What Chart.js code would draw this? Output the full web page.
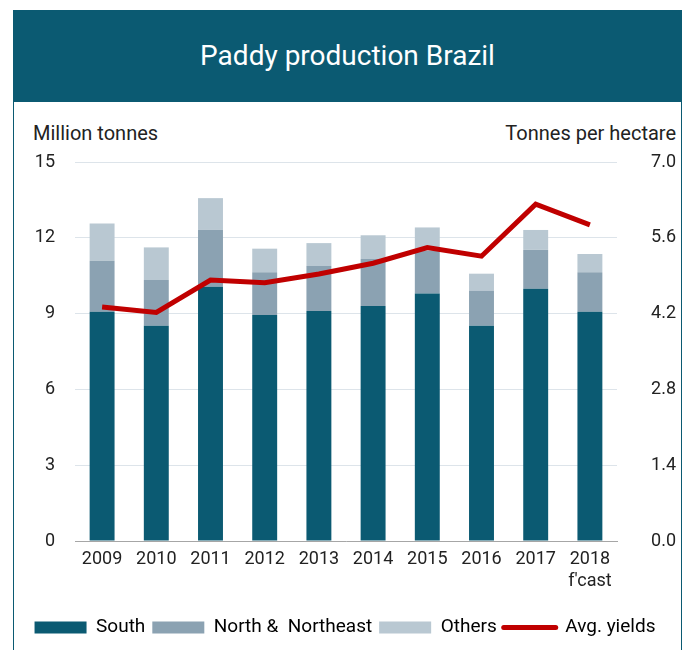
<!DOCTYPE html>
<html><head><meta charset="utf-8">
<script src="https://cdn.jsdelivr.net/npm/chart.js@4"></script>
<style>
body{margin:0;background:#fff;width:684px;height:650px;overflow:hidden;position:relative;font-family:Roboto,sans-serif;}
#frame{position:absolute;left:13px;top:10px;width:667px;height:660px;border:1px solid #0b5a72;}
#band{position:absolute;left:13px;top:10px;width:669px;height:92px;background:#0b5a72;color:#fff;font-size:28px;text-align:center;line-height:92px;}
.axt{position:absolute;top:121px;font-size:20px;color:#222;line-height:24px;}
#wrap{position:absolute;left:14px;top:102px;width:667px;height:548px;}
</style></head>
<body>
<div id="frame"></div>
<div id="band">Paddy production Brazil</div>
<div class="axt" style="left:33px">Million tonnes</div>
<div class="axt" style="right:8px">Tonnes per hectare</div>
<div id="wrap"><canvas id="c"></canvas></div>
<script>
const years = ['2009','2010','2011','2012','2013','2014','2015','2016','2017',['2018',"f'cast"]];
const south = [9.07, 8.52, 10.06, 8.94, 9.10, 9.30, 9.80, 8.52, 9.98, 9.07];
const northNortheast = [2.02, 1.81, 2.25, 1.70, 1.78, 1.86, 1.69, 1.39, 1.54, 1.57];
const others = [1.48, 1.29, 1.26, 0.93, 0.91, 0.94, 0.92, 0.67, 0.79, 0.72];
const avgYields = [4.32, 4.22, 4.82, 4.77, 4.93, 5.13, 5.42, 5.26, 6.22, 5.84];
const leftTicks = [0, 3, 6, 9, 12, 15];
const rightTicks = ['0.0', '1.4', '2.8', '4.2', '5.6', '7.0'];

const FONT = "Roboto, sans-serif";
Chart.defaults.font.family = FONT;
Chart.defaults.color = '#222';

new Chart(document.getElementById('c'), {
  data: {
    labels: years,
    datasets: [
      {type:'line', label:'Avg. yields', data: avgYields, yAxisID:'y1', borderColor:'#c00000', backgroundColor:'#c00000', borderWidth:5, pointRadius:0, tension:0, order:0},
      {type:'bar', label:'South', data: south, backgroundColor:'#0b5a72', yAxisID:'y', order:1},
      {type:'bar', label:'North &  Northeast', data: northNortheast, backgroundColor:'#8ba2b2', yAxisID:'y', order:1},
      {type:'bar', label:'Others', data: others, backgroundColor:'#b9c8d2', yAxisID:'y', order:1}
    ]
  },
  options: {
    responsive:true, maintainAspectRatio:false, animation:false,
    layout:{padding:{top:60, left:0, right:5, bottom:3}},
    datasets:{bar:{barPercentage:0.46, categoryPercentage:1}},
    plugins:{
      tooltip:{enabled:false},
      legend:{
        position:'bottom',
        labels:{
          usePointStyle:true, pointStyleWidth:52, boxHeight:12, padding:7,
          font:{size:19},
          generateLabels(chart){
            const ds = chart.data.datasets;
            const order = [1,2,3,0];
            return order.map(i => {
              const d = ds[i];
              const isLine = d.type === 'line';
              return {
                text: d.label, datasetIndex:i,
                fillStyle: d.backgroundColor,
                strokeStyle: isLine ? d.borderColor : d.backgroundColor,
                lineWidth: isLine ? 5 : 0,
                lineCap: 'round',
                pointStyle: isLine ? 'line' : 'rect',
                hidden:false
              };
            });
          }
        }
      }
    },
    scales:{
      x:{
        stacked:true,
        afterFit(s){ s.height = 70; },
        grid:{display:false, drawTicks:false},
        border:{display:true, color:'#a6a6a6', width:1},
        ticks:{font:{size:18}, padding:8, maxRotation:0, autoSkip:false}
      },
      y:{
        stacked:true, position:'left', min:0, max:15,
        afterBuildTicks(s){ s.ticks = leftTicks.map(v => ({value:v})); },
        afterFit(s){ s.width = 61; },
        grid:{color:'#dde4ea', lineWidth:1, drawTicks:false},
        border:{display:false},
        ticks:{font:{size:18}, padding:20}
      },
      y1:{
        position:'right', min:0, max:7,
        afterBuildTicks(s){ s.ticks = rightTicks.map(v => ({value:parseFloat(v)})); },
        afterFit(s){ s.width = 59; },
        grid:{display:false, drawTicks:false},
        border:{display:false},
        ticks:{font:{size:18}, padding:18, callback:(v,i)=>rightTicks[i], crossAlign:'far'}
      }
    }
  }
});
</script>
</body></html>
